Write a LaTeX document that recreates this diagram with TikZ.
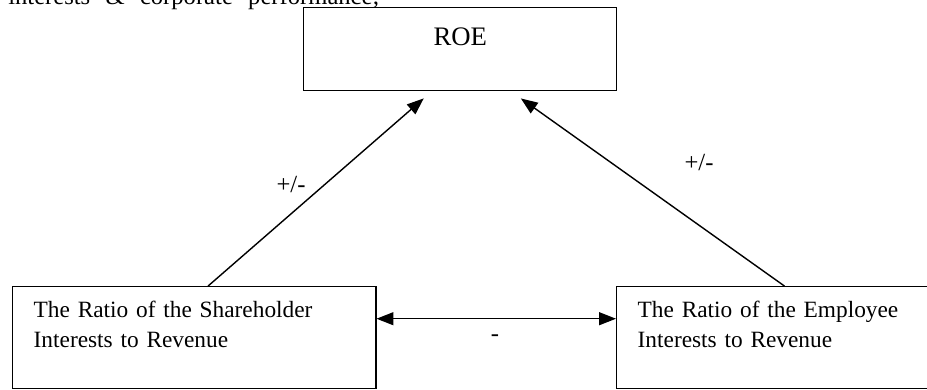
\documentclass[tikz,border=0pt]{standalone}
\usepackage{fontspec}
\setmainfont{Liberation Serif}
\usetikzlibrary{arrows.meta}
\begin{document}
\begin{tikzpicture}[
  x=0.025cm, y=-0.025cm,
  box/.style={draw, line width=1pt, anchor=north west, align=left, text width=8.025cm,
    inner xsep=0.525cm, inner ysep=0pt, text height=0.7675cm, text depth=1.7825cm,
    font=\fontsize{16.6}{21.3}\selectfont},
  topbox/.style={draw, line width=1pt, anchor=north west, inner sep=0pt, minimum width=7.825cm,
    text height=0.9325cm, text depth=1.1425cm, font=\fontsize{19}{23}\selectfont},
  lbl/.style={font=\fontsize{17.5}{21.3}\selectfont, inner sep=0pt},
  arr/.style={line width=1pt, -{Triangle[length=0.42cm, width=0.32cm]}}
]
\useasboundingbox (0,0) rectangle (927,389);
\clip (0,0) rectangle (927,389);
\node[lbl, anchor=base west] (intro) at (8,4) {\makebox[9.275cm][s]{interests \& corporate performance;}};
\node[topbox] (roe) at (303,7) {ROE};
\node[box] (share) at (12,286) {The Ratio of the Shareholder\\Interests to Revenue};
\node[box] (employee) at (616,286) {\makebox[7.075cm][s]{The Ratio of the Employee}\\Interests to Revenue};
\draw[arr, shorten >=0.265cm] (share.75) -- ([xshift=-0.7125cm]roe.south);
\draw[arr, shorten >=0.3cm] (employee.105) -- ([xshift=1.27cm]roe.south);
\draw[line width=1pt, {Triangle[length=0.42cm, width=0.32cm]}-{Triangle[length=0.42cm, width=0.32cm]}]
  ([yshift=0.475cm]share.east) -- ([yshift=0.475cm]employee.west);
\node[lbl] (leftsign) at (291,185) {+/-};
\node[lbl] (rightsign) at (699,163) {+/-};
\node[lbl] (bothsign) at (495,338) {-};
\end{tikzpicture}
\end{document}
